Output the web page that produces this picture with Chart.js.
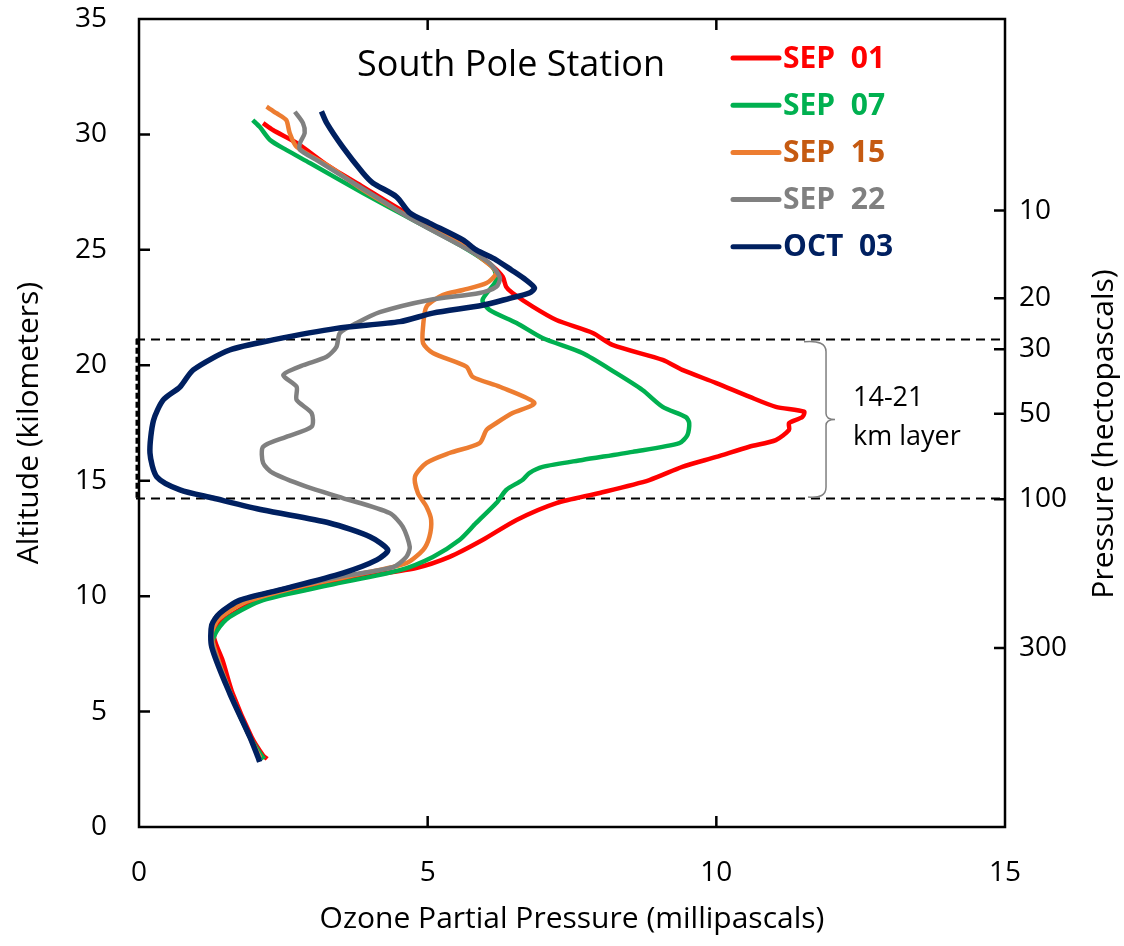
<!DOCTYPE html>
<html>
<head>
<meta charset="utf-8">
<script src="https://cdn.jsdelivr.net/npm/chart.js@4"></script>
<style>
  html, body { margin: 0; padding: 0; background: #fff; }
</style>
</head>
<body>
<canvas id="myChart" width="1124" height="946"></canvas>
<script>
// series: [ozone mPa, altitude km]
const sep01 = [[2.15,30.49],[2.32,30.19],[2.73,29.63],[3.3,28.6],[3.88,27.73],[4.63,26.6],[5.61,25.3],[6.12,24.3],[6.3,23.83],[6.36,23.4],[6.47,23.13],[6.82,22.54],[7.23,21.96],[7.86,21.4],[8.2,20.88],[9.07,20.23],[9.41,19.8],[10.0,19.23],[10.57,18.64],[11.03,18.2],[11.52,17.99],[11.49,17.76],[11.26,17.5],[11.26,17.2],[11.03,16.76],[10.57,16.47],[10.0,16.03],[9.41,15.6],[8.84,15.03],[7.98,14.47],[7.23,14.03],[6.54,13.3],[5.95,12.43],[5.38,11.7],[4.8,11.22],[4.0,10.9],[3.0,10.45],[2.1,9.85],[1.6,9.2],[1.35,8.7],[1.3,8.2],[1.45,7.2],[1.62,5.8],[1.95,3.9],[2.15,3.1],[2.22,2.95]];
const sep07 = [[1.97,30.62],[2.09,30.33],[2.27,29.76],[2.55,29.33],[2.96,28.76],[3.88,27.46],[4.74,26.3],[5.61,25.13],[6.12,24.26],[6.19,23.7],[5.95,22.83],[6.07,22.4],[6.54,21.83],[6.99,21.18],[7.68,20.53],[8.26,19.67],[8.72,18.93],[9.07,18.2],[9.47,17.76],[9.53,17.5],[9.5,16.98],[9.36,16.63],[8.55,16.25],[7.68,15.9],[6.99,15.6],[6.76,15.33],[6.64,15.03],[6.36,14.6],[6.19,14.03],[5.84,13.17],[5.55,12.43],[5.09,11.7],[4.52,11.13],[3.3,10.48],[2.15,9.83],[1.57,9.1],[1.35,8.5],[1.28,8.0],[1.55,6.0],[1.9,4.0],[2.12,3.1],[2.17,2.95]];
const sep15 = [[2.21,31.2],[2.38,30.92],[2.55,30.62],[2.61,30.06],[2.73,29.46],[3.3,28.6],[3.88,27.6],[4.7,26.4],[5.61,25.2],[6.1,24.3],[6.19,23.99],[6.02,23.56],[5.61,23.26],[5.26,23.04],[4.98,22.54],[4.92,21.67],[4.92,20.96],[5.09,20.53],[5.67,19.94],[5.78,19.5],[6.25,19.07],[6.85,18.37],[6.47,17.93],[6.19,17.5],[6.02,17.2],[5.9,16.63],[5.38,16.2],[4.98,15.77],[4.78,15.17],[4.83,14.47],[4.98,13.87],[5.06,13.3],[5.03,12.57],[4.92,12.0],[4.63,11.43],[3.8,10.95],[2.6,10.3],[1.8,9.7],[1.38,9.0],[1.26,8.4],[1.3,7.8],[1.55,6.0],[1.92,3.9],[2.1,3.0]];
const sep22 = [[2.7,30.98],[2.84,30.49],[2.87,30.06],[2.79,29.63],[2.79,29.33],[3.07,28.9],[3.53,28.18],[4.17,27.2],[4.74,26.3],[5.61,25.13],[6.07,24.43],[6.25,23.8],[6.19,23.4],[5.9,23.13],[5.03,22.83],[4.17,22.3],[3.77,21.83],[3.48,21.4],[3.42,20.8],[3.25,20.37],[2.84,20.0],[2.5,19.58],[2.73,19.07],[2.73,18.5],[2.99,17.93],[2.99,17.34],[2.55,16.9],[2.15,16.47],[2.15,15.77],[2.32,15.33],[2.9,14.74],[3.53,14.25],[4.34,13.6],[4.57,13.0],[4.69,12.13],[4.63,11.7],[4.4,11.26],[3.5,10.85],[2.4,10.25],[1.7,9.75],[1.33,9.1],[1.25,8.5],[1.28,7.8],[1.56,5.9],[1.92,3.9],[2.09,2.95]];
const oct03 = [[3.16,31.0],[3.25,30.5],[3.53,29.45],[3.88,28.33],[4.05,27.9],[4.46,27.3],[4.69,26.6],[5.03,26.16],[5.61,25.43],[5.84,25.0],[6.19,24.56],[6.45,24.13],[6.7,23.7],[6.85,23.35],[6.76,23.13],[6.42,22.9],[5.95,22.6],[5.09,22.26],[4.52,21.89],[3.42,21.6],[2.32,21.1],[1.57,20.66],[0.94,19.8],[0.71,19.06],[0.42,18.5],[0.25,17.6],[0.19,16.2],[0.31,15.16],[0.71,14.6],[1.28,14.25],[2.15,13.73],[3.3,13.17],[4.0,12.57],[4.31,12.0],[4.12,11.57],[3.53,11.0],[2.44,10.27],[1.75,9.83],[1.4,9.26],[1.26,8.75],[1.26,7.8],[1.57,5.8],[1.92,3.9],[2.06,3.03],[2.09,2.82]];

const seriesNames = ['SEP  01', 'SEP  07', 'SEP  15', 'SEP  22', 'OCT  03'];
const seriesData = [sep01, sep07, sep15, sep22, oct03];
const lineColors = ['#FF0000', '#00B050', '#ED7D31', '#808080', '#002060'];
const textColors = ['#FF0000', '#00B050', '#C55A11', '#808080', '#002060'];

// right-hand pressure axis: labels (hPa) and the altitude (km) they sit at
const pressureLabels = ['10', '20', '30', '50', '100', '300'];
const pressureAlt = [26.7, 22.9, 20.7, 17.9, 14.2, 7.75];

// the 14-21 km layer
const layerTop = 21.15;
const layerBottom = 14.25;

const FONT = "'Open Sans', 'Noto Sans', sans-serif";

const datasets = seriesData.map((pts, i) => ({
    label: seriesNames[i],
    data: pts.map(p => ({x: p[0], y: p[1]})),
    showLine: true,
    borderColor: lineColors[i],
    backgroundColor: lineColors[i],
    borderWidth: i === 4 ? 5.5 : 4.5,
    pointRadius: 0,
    tension: 0.25,
    order: 5 - i
}));

// kill the label overhang padding so the plot box lands where it should
const noPad = s => { s.paddingTop = 0; s.paddingBottom = 0; s.paddingLeft = 0; s.paddingRight = 0; };

const decor = {
    id: 'decor',
    beforeDatasetsDraw(chart) {
        const {ctx, chartArea: a, scales: {y}} = chart;
        ctx.save();
        ctx.strokeStyle = '#000';
        ctx.lineWidth = 2;
        ctx.setLineDash([9, 6]);
        [layerTop, layerBottom].forEach(v => {
            const py = Math.round(y.getPixelForValue(v)) + 0.5;
            ctx.beginPath();
            ctx.moveTo(a.left - 3, py);
            ctx.lineTo(a.right, py);
            ctx.stroke();
        });
        ctx.restore();
    },
    afterDraw(chart) {
        const {ctx, chartArea: a, scales: {x, y, p}} = chart;
        ctx.save();
        // frame
        ctx.strokeStyle = '#000';
        ctx.lineWidth = 2.5;
        ctx.strokeRect(a.left, a.top, a.right - a.left, a.bottom - a.top);
        // inward tick marks
        ctx.beginPath();
        [5, 10].forEach(v => {
            const px = x.getPixelForValue(v);
            ctx.moveTo(px, a.bottom); ctx.lineTo(px, a.bottom - 11);
            ctx.moveTo(px, a.top); ctx.lineTo(px, a.top + 11);
        });
        [5, 10, 15, 20, 25, 30].forEach(v => {
            const py = y.getPixelForValue(v);
            ctx.moveTo(a.left, py); ctx.lineTo(a.left + 11, py);
        });
        pressureAlt.forEach(v => {
            const py = p.getPixelForValue(v);
            ctx.moveTo(a.right, py); ctx.lineTo(a.right - 11, py);
        });
        ctx.stroke();
        // dashed left edge of the layer box
        ctx.lineWidth = 3;
        ctx.setLineDash([6, 3]);
        ctx.beginPath();
        ctx.moveTo(a.left - 2, y.getPixelForValue(layerTop));
        ctx.lineTo(a.left - 2, y.getPixelForValue(layerBottom));
        ctx.stroke();
        ctx.setLineDash([]);

        // brace
        const bx = x.getPixelForValue(11.9);
        const t = y.getPixelForValue(layerTop) + 3;
        const b = y.getPixelForValue(layerBottom) - 1;
        const m = (t + b) / 2;
        ctx.strokeStyle = '#7f7f7f';
        ctx.lineWidth = 1.5;
        ctx.beginPath();
        ctx.moveTo(bx - 22, t);
        ctx.quadraticCurveTo(bx, t - 2, bx, t + 10);
        ctx.lineTo(bx, m - 6);
        ctx.quadraticCurveTo(bx, m, bx + 9, m);
        ctx.quadraticCurveTo(bx, m, bx, m + 6);
        ctx.lineTo(bx, b - 10);
        ctx.quadraticCurveTo(bx, b + 2, bx - 18, b);
        ctx.stroke();

        // layer annotation
        ctx.fillStyle = '#000';
        ctx.font = '27px ' + FONT;
        ctx.textAlign = 'left';
        ctx.textBaseline = 'middle';
        ctx.fillText('14-21', bx + 27, m - 21);
        ctx.fillText('km layer', bx + 27, m + 18);

        // station label
        ctx.font = '36px ' + FONT;
        ctx.textAlign = 'center';
        ctx.fillText('South Pole Station', 511, 66);

        // legend
        ctx.font = 'bold 30px ' + FONT;
        ctx.textAlign = 'left';
        seriesNames.forEach((name, i) => {
            const ly = 58 + i * 47.2;
            ctx.strokeStyle = lineColors[i];
            ctx.lineWidth = 5;
            ctx.lineCap = 'round';
            ctx.beginPath();
            ctx.moveTo(733, ly);
            ctx.lineTo(779, ly);
            ctx.stroke();
            ctx.fillStyle = textColors[i];
            ctx.fillText(name, 783, ly + 1);
        });

        // right axis title, reads bottom to top
        ctx.fillStyle = '#000';
        ctx.font = '30px ' + FONT;
        ctx.textAlign = 'center';
        ctx.translate(1104, 434);
        ctx.rotate(-Math.PI / 2);
        ctx.fillText('Pressure (hectopascals)', 0, 0);
        ctx.restore();
    }
};

const config = {
    type: 'scatter',
    data: { datasets: datasets },
    options: {
        responsive: false,
        animation: false,
        layout: { padding: { top: 19, left: 0, right: 0, bottom: 0 } },
        plugins: {
            legend: { display: false },
            tooltip: { enabled: false }
        },
        scales: {
            x: {
                type: 'linear',
                min: 0, max: 15,
                afterFit: s => { s.height = 119; noPad(s); },
                grid: { display: false, drawTicks: false },
                border: { display: false },
                ticks: { stepSize: 5, padding: 29, color: '#000', font: { family: FONT, size: 28 } },
                title: { display: true, text: 'Ozone Partial Pressure (millipascals)', color: '#000',
                         font: { family: FONT, size: 30 }, padding: { top: 0, bottom: 9 } }
            },
            y: {
                type: 'linear',
                position: 'left',
                min: 0, max: 35,
                afterFit: s => { s.width = 139; noPad(s); },
                grid: { display: false, drawTicks: false },
                border: { display: false },
                ticks: { stepSize: 5, padding: 32, color: '#000', font: { family: FONT, size: 28 } },
                title: { display: true, text: 'Altitude (kilometers)', color: '#000',
                         font: { family: FONT, size: 30 }, padding: { top: 11, bottom: 0 } }
            },
            p: {
                type: 'linear',
                position: 'right',
                min: 0, max: 35,
                afterFit: s => { s.width = 119; noPad(s); },
                afterBuildTicks: s => { s.ticks = pressureAlt.map(v => ({ value: v })); },
                grid: { display: false, drawTicks: false },
                border: { display: false },
                ticks: { autoSkip: false, padding: 14, color: '#000', font: { family: FONT, size: 28 },
                         callback: (v, i) => pressureLabels[i] }
            }
        }
    },
    plugins: [decor]
};

const myChart = new Chart(document.getElementById('myChart'), config);
</script>
</body>
</html>
